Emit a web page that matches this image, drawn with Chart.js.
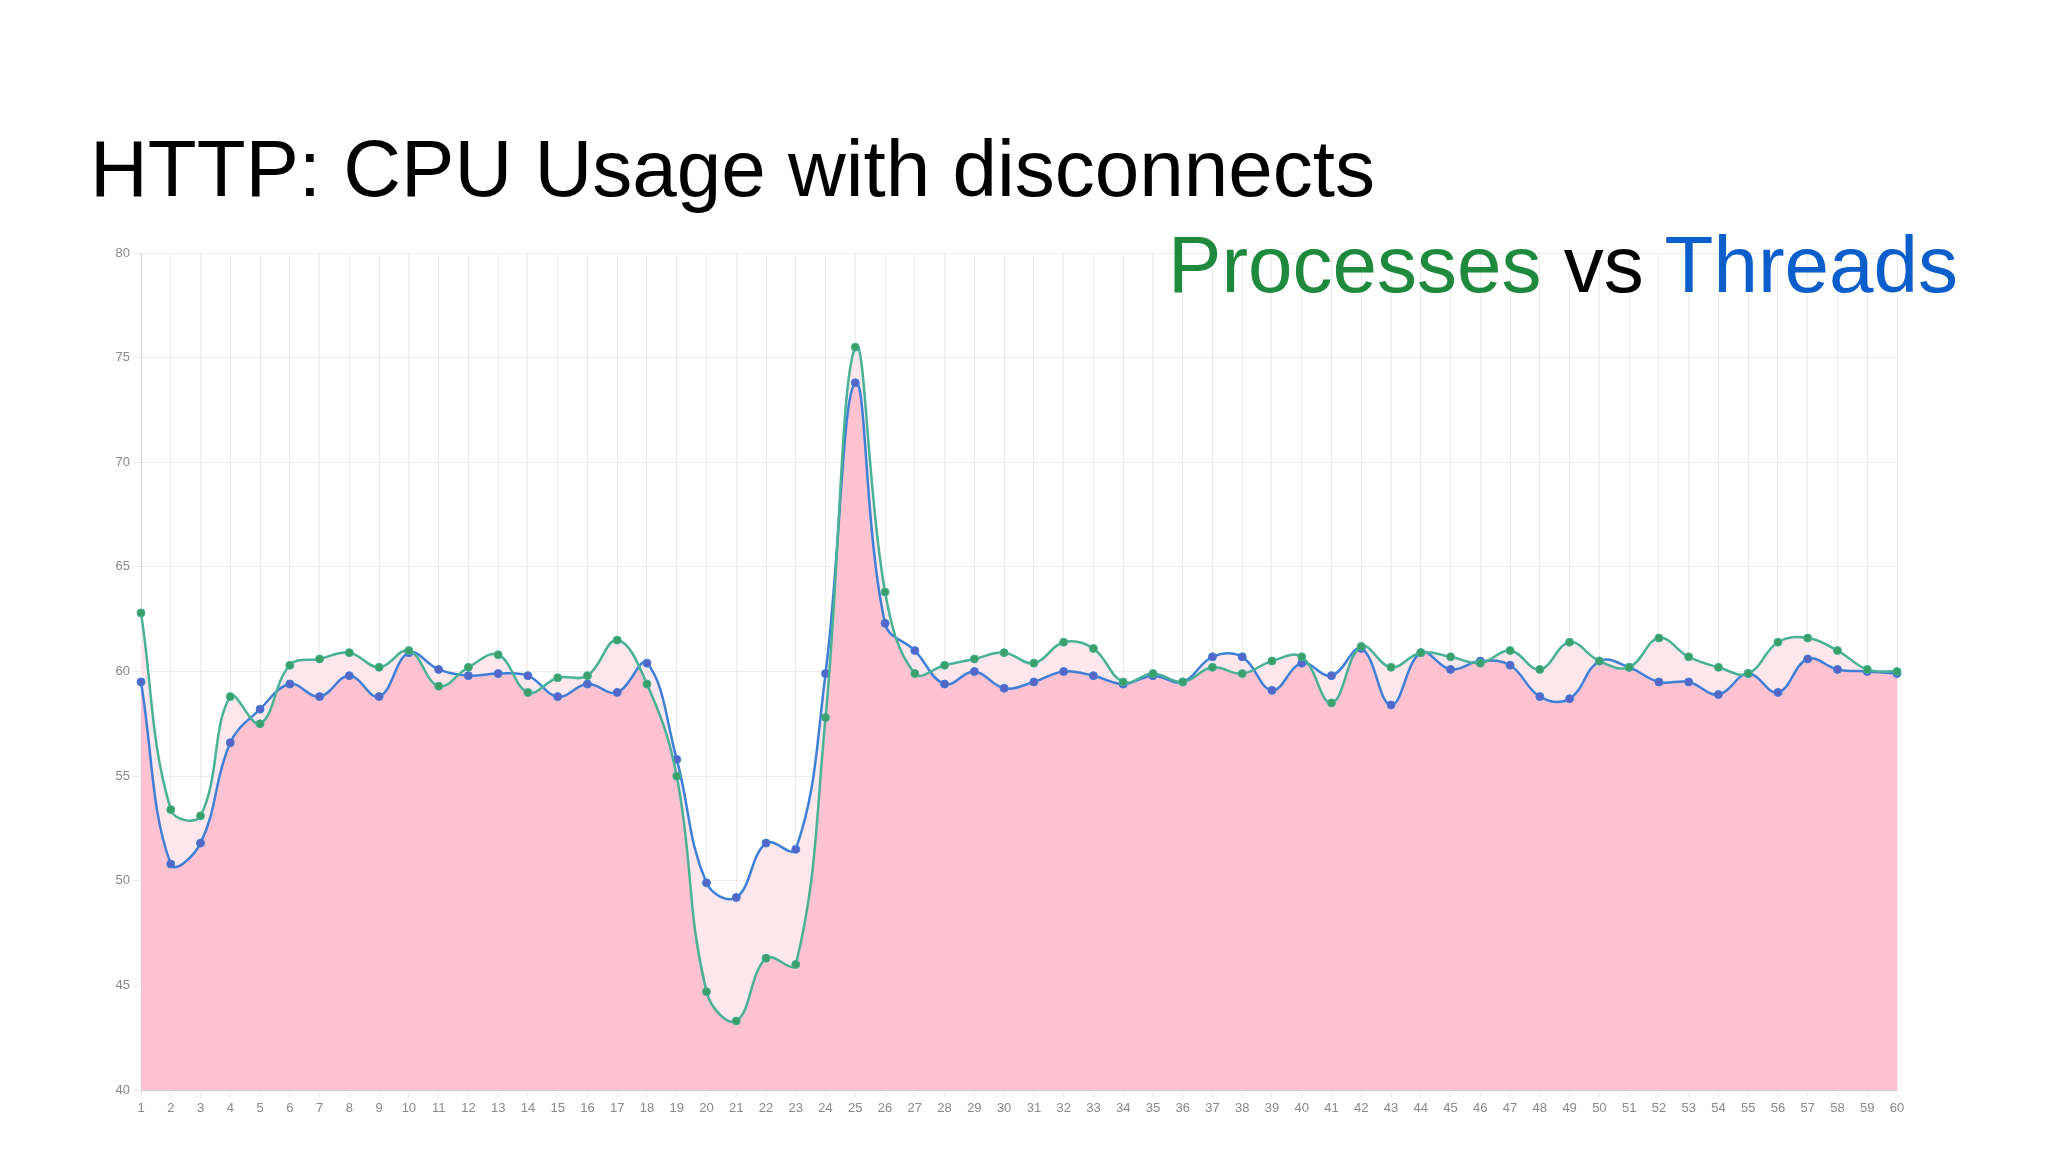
<!DOCTYPE html>
<html>
<head>
<meta charset="utf-8">
<script src="https://cdn.jsdelivr.net/npm/chart.js@4/dist/chart.umd.min.js"></script>
<style>
  html, body { margin:0; padding:0; background:#fff; }
  #wrap { position:relative; width:2048px; height:1152px; overflow:hidden; background:#fff; }
  .title { position:absolute; left:90px; top:129px; font-family:'Liberation Sans', Arial, sans-serif; font-size:80px; line-height:80px; color:#000; white-space:nowrap; }
  .sub { position:absolute; right:90px; top:225px; font-family:'Liberation Sans', Arial, sans-serif; font-size:80px; line-height:80px; color:#000; white-space:nowrap; }
  .green { color:#1f8a3d; }
  .blue { color:#0c5fcb; }
  #chartBox { position:absolute; left:0; top:0; width:2048px; height:1152px; }
</style>
</head>
<body>
<div id="wrap">
  <div id="chartBox"><canvas id="cpu"></canvas></div>
  <div class="title">HTTP: CPU Usage with disconnects</div>
  <div class="sub"><span class="green">Processes</span> vs <span class="blue">Threads</span></div>
</div>
<script>
const labels = Array.from({length:60}, (_, i) => String(i + 1))

// CPU usage (%) per sample
const processes = [
  62.8, 53.4, 53.1, 58.8, 57.5, 60.3, 60.6, 60.9, 60.2, 61.0,
  59.3, 60.2, 60.8, 59.0, 59.7, 59.8, 61.5, 59.4, 55.0, 44.7,
  43.3, 46.3, 46.0, 57.8, 75.5, 63.8, 59.9, 60.3, 60.6, 60.9,
  60.4, 61.4, 61.1, 59.5, 59.9, 59.5, 60.2, 59.9, 60.5, 60.7,
  58.5, 61.2, 60.2, 60.9, 60.7, 60.4, 61.0, 60.1, 61.4, 60.5,
  60.2, 61.6, 60.7, 60.2, 59.9, 61.4, 61.6, 61.0, 60.1, 60.0
]
const threads = [
  59.5, 50.8, 51.8, 56.6, 58.2, 59.4, 58.8, 59.8, 58.8, 60.9,
  60.1, 59.8, 59.9, 59.8, 58.8, 59.4, 59.0, 60.4, 55.8, 49.9,
  49.2, 51.8, 51.5, 59.9, 73.8, 62.3, 61.0, 59.4, 60.0, 59.2,
  59.5, 60.0, 59.8, 59.4, 59.8, 59.5, 60.7, 60.7, 59.1, 60.4,
  59.8, 61.1, 58.4, 60.9, 60.1, 60.5, 60.3, 58.8, 58.7, 60.5,
  60.2, 59.5, 59.5, 58.9, 59.9, 59.0, 60.6, 60.1, 60.0, 59.9
]

const PINK_DEEP = '#fec2d0'
const PINK_LIGHT = '#fde6ec'
const grid = 'rgba(0,0,0,0.07)'
const tickFont = {family:'Liberation Sans', size:13}

new Chart(document.getElementById('cpu'), {
  type: 'line',
  data: {
    labels,
    datasets: [
      {
        label:'Processes', data:processes,
        borderColor:'#48b296', borderWidth:2.5,
        pointBackgroundColor:'#39a06a', pointBorderColor:'#48b296', pointRadius:4, pointBorderWidth:1,
        tension:0.4,
        fill:{target:1, above:PINK_LIGHT, below:PINK_LIGHT}
      },
      {
        label:'Threads', data:threads,
        borderColor:'#3d80d6', borderWidth:2.5,
        pointBackgroundColor:'#5666c8', pointBorderColor:'#3d80d6', pointRadius:4, pointBorderWidth:1,
        tension:0.4,
        fill:{target:'origin', above:PINK_DEEP},
        backgroundColor:PINK_DEEP
      }
    ]
  },
  options: {
    responsive:true, maintainAspectRatio:false, animation:false,
    layout:{padding:{left:100, top:253, right:151, bottom:36}},
    plugins:{
      legend:{display:false},
      tooltip:{enabled:false},
      filler:{drawTime:'beforeDatasetsDraw'}
    },
    scales:{
      x:{
        grid:{color:grid, tickLength:8},
        border:{color:'rgba(0,0,0,0.12)'},
        ticks:{color:'#888', font:tickFont, padding:3, autoSkip:false, maxRotation:0},
        afterFit(s){ s.height = 26 }
      },
      y:{
        min:40, max:80,
        grid:{color:grid, tickLength:8},
        border:{color:'rgba(0,0,0,0.12)'},
        ticks:{stepSize:5, color:'#888', font:tickFont, padding:3},
        afterFit(s){ s.width = 41 }
      }
    }
  }
})
</script>
</body>
</html>
